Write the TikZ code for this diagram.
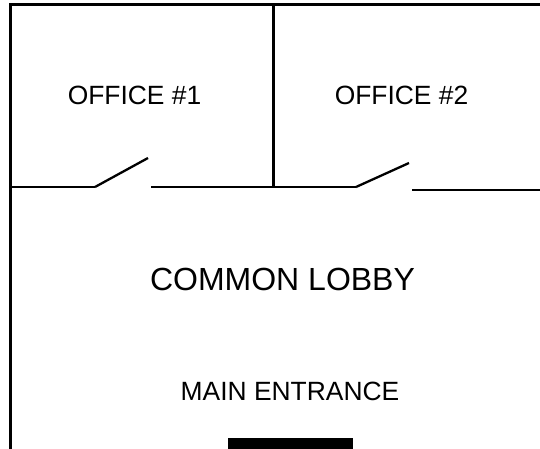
\documentclass[tikz,border=0pt]{standalone}
\usepackage{fontspec}
\setmainfont{Liberation Sans}
\usetikzlibrary{positioning}

\begin{document}
\begin{tikzpicture}[
            x=1pt,y=-1pt,
            wall/.style={draw,line width=2.3pt},
            door/.style={wall},
            room/.style={inner sep=0pt,font=\fontsize{26.4}{30}\selectfont},
            lobby/.style={room,font=\fontsize{32}{36}\selectfont},
            entrance/.style={fill=black}
          ]
          \useasboundingbox (0,0) rectangle (540,449);

          %outer walls
          \draw[wall] (540,4.5) -- (10.5,4.5) -- (10.5,449);
          \draw[wall] (273.5,4.5) -- (273.5,187);

          %office front, with doors
          \draw[wall] (10.5,187) -- (95,187);
          \draw[door] (95,187) -- (148,158);
          \draw[wall] (151,187) -- (356,187);
          \draw[door] (356,187) -- (409,163);
          \draw[wall] (412,190) -- (540,190);

          %main door
          \fill[entrance] (228,438) rectangle (353,449);

          %labels
          \node[room] (office1) at (134.5,95.5) {OFFICE \#1};
          \node[room] (office2) at (401.5,95.5) {OFFICE \#2};
          \node[lobby] (common) at (282.5,279) {COMMON LOBBY};
          \node[room] (main) at (290,391.5) {MAIN ENTRANCE};
      \end{tikzpicture}
\end{document}
